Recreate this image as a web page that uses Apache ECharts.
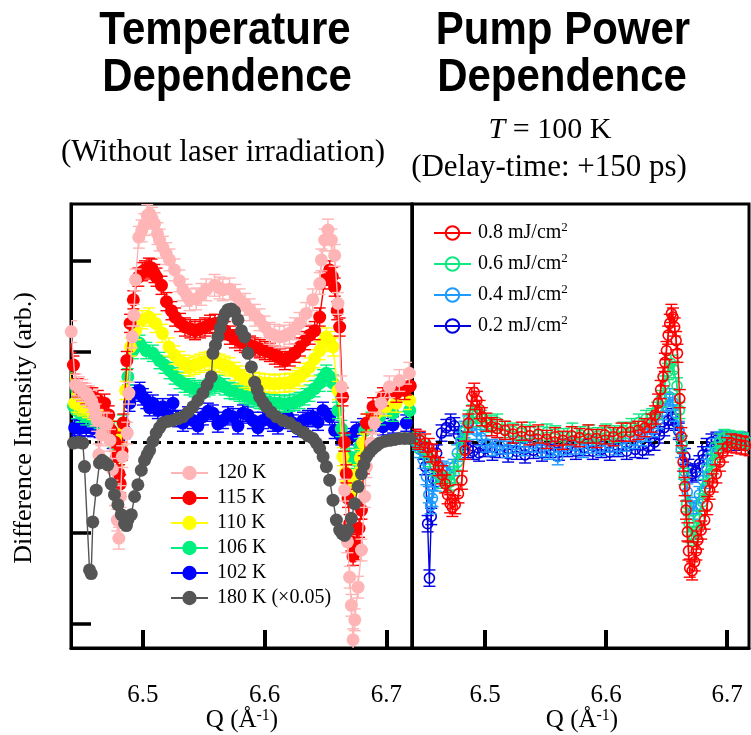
<!DOCTYPE html>
<html><head><meta charset="utf-8">
<script src="https://cdn.jsdelivr.net/npm/echarts@6/dist/echarts.min.js"></script>
<style>html,body{margin:0;padding:0;background:#fff}#c{width:751px;height:735px}</style>
</head><body><div id="c"></div>
<script>
// ---------- DATA (Q in 1/Å, difference intensity in arb. units) ----------
const X_TICKS = [6.5, 6.6, 6.7];
const Y_TICKS = [-2, -1, 0, 1, 2];
const LEFT_NAMES = ['120 K', '115 K', '110 K', '106 K', '102 K', '180 K (×0.05)'];
const RIGHT_NAMES = ['0.8 mJ/cm2', '0.6 mJ/cm2', '0.4 mJ/cm2', '0.2 mJ/cm2'];

const T120 = [[6.4412,1.22],[6.4447,0.63],[6.4475,0.60],[6.4502,0.57],[6.4530,0.53],[6.4557,0.50],[6.4580,0.45],[6.4597,0.39],[6.4612,0.30],[6.4625,0.24],[6.4638,-0.14],[6.4660,0.08],[6.4680,0.21],[6.4705,0.20],[6.4730,0.02],[6.4750,-0.30],[6.4770,-0.58],[6.4790,-0.86],[6.4803,-1.06],[6.4817,-0.60],[6.4831,-0.16],[6.4872,0.10],[6.4885,0.54],[6.4913,1.16],[6.4926,1.40],[6.4940,1.79],[6.4967,2.26],[6.4990,2.33],[6.5012,2.40],[6.5036,2.50],[6.5055,2.52],[6.5075,2.47],[6.5096,2.41],[6.5120,2.30],[6.5137,2.23],[6.5164,2.15],[6.5192,2.08],[6.5219,2.01],[6.5260,1.90],[6.5300,1.78],[6.5329,1.68],[6.5360,1.62],[6.5384,1.57],[6.5438,1.58],[6.5480,1.63],[6.5520,1.68],[6.5589,1.73],[6.5630,1.70],[6.5657,1.68],[6.5712,1.69],[6.5760,1.62],[6.5794,1.57],[6.5840,1.52],[6.5876,1.46],[6.5920,1.40],[6.5958,1.35],[6.6000,1.27],[6.6040,1.20],[6.6080,1.18],[6.6122,1.16],[6.6160,1.17],[6.6204,1.20],[6.6250,1.25],[6.6286,1.31],[6.6341,1.42],[6.6395,1.57],[6.6452,1.75],[6.6466,2.01],[6.6493,2.23],[6.6520,2.34],[6.6548,2.23],[6.6575,2.06],[6.6602,1.53],[6.6630,0.61],[6.6657,-0.53],[6.6680,-1.10],[6.6698,-1.49],[6.6712,-1.80],[6.6726,-2.18],[6.6740,-1.96],[6.6767,-1.60],[6.6795,-1.19],[6.6822,-0.60],[6.6836,-0.27],[6.6874,-0.01],[6.6901,0.21],[6.6956,0.43],[6.7024,0.61],[6.7106,0.68],[6.7188,0.76]];

const T115 = [[6.4404,1.09],[6.4430,0.85],[6.4465,0.60],[6.4500,0.55],[6.4535,0.52],[6.4585,0.50],[6.4630,0.47],[6.4685,0.43],[6.4720,0.30],[6.4740,0.13],[6.4770,0.00],[6.4786,-0.16],[6.4805,-0.35],[6.4814,-0.46],[6.4828,-0.10],[6.4840,0.21],[6.4868,0.90],[6.4895,1.31],[6.4922,1.57],[6.4963,1.82],[6.4995,1.88],[6.5018,1.90],[6.5050,1.93],[6.5072,1.92],[6.5095,1.86],[6.5112,1.82],[6.5153,1.73],[6.5194,1.55],[6.5235,1.45],[6.5265,1.38],[6.5305,1.32],[6.5346,1.27],[6.5390,1.25],[6.5428,1.23],[6.5470,1.25],[6.5510,1.27],[6.5552,1.30],[6.5592,1.31],[6.5634,1.27],[6.5674,1.23],[6.5715,1.18],[6.5756,1.14],[6.5797,1.11],[6.5838,1.09],[6.5880,1.07],[6.5920,1.05],[6.5960,1.03],[6.6002,1.01],[6.6043,0.99],[6.6084,0.96],[6.6125,0.93],[6.6166,0.90],[6.6207,0.94],[6.6248,0.98],[6.6290,1.05],[6.6330,1.12],[6.6370,1.18],[6.6411,1.23],[6.6452,1.38],[6.6493,1.79],[6.6534,1.90],[6.6555,1.83],[6.6575,1.71],[6.6596,1.45],[6.6616,1.27],[6.6640,0.50],[6.6655,0.00],[6.6671,-0.35],[6.6685,-0.62],[6.6698,-0.90],[6.6712,-1.10],[6.6726,-1.26],[6.6740,-1.20],[6.6753,-1.12],[6.6775,-0.95],[6.6795,-0.75],[6.6815,-0.25],[6.6836,0.21],[6.6890,0.39],[6.6972,0.50],[6.7082,0.54],[6.7150,0.57],[6.7196,0.62]];

const T110 = [[6.4398,0.79],[6.4439,0.43],[6.4475,0.41],[6.4507,0.39],[6.4550,0.37],[6.4589,0.35],[6.4630,0.31],[6.4671,0.28],[6.4710,0.22],[6.4740,0.13],[6.4770,0.00],[6.4800,-0.16],[6.4820,-0.05],[6.4830,0.10],[6.4858,0.57],[6.4899,1.05],[6.4940,1.23],[6.4995,1.35],[6.5050,1.38],[6.5105,1.31],[6.5160,1.20],[6.5215,1.05],[6.5260,0.96],[6.5300,0.90],[6.5342,0.86],[6.5383,0.83],[6.5425,0.85],[6.5466,0.87],[6.5507,0.89],[6.5548,0.90],[6.5590,0.88],[6.5630,0.87],[6.5671,0.85],[6.5712,0.83],[6.5753,0.78],[6.5794,0.74],[6.5835,0.70],[6.5876,0.68],[6.5917,0.67],[6.5958,0.66],[6.6000,0.65],[6.6040,0.65],[6.6081,0.64],[6.6122,0.65],[6.6163,0.65],[6.6205,0.66],[6.6246,0.69],[6.6287,0.72],[6.6328,0.77],[6.6369,0.83],[6.6410,0.92],[6.6452,1.01],[6.6480,1.10],[6.6506,1.16],[6.6535,1.12],[6.6561,1.05],[6.6602,0.57],[6.6643,-0.16],[6.6664,-0.33],[6.6684,-0.46],[6.6705,-0.51],[6.6725,-0.53],[6.6746,-0.45],[6.6766,-0.35],[6.6787,-0.18],[6.6807,-0.01],[6.6848,0.21],[6.6917,0.32],[6.6999,0.39],[6.7081,0.43],[6.7190,0.46]];

const T106 = [[6.4398,0.68],[6.4430,0.40],[6.4453,0.35],[6.4495,0.31],[6.4535,0.28],[6.4590,0.26],[6.4644,0.24],[6.4690,0.19],[6.4726,0.13],[6.4760,0.03],[6.4795,-0.05],[6.4835,0.21],[6.4877,0.72],[6.4918,1.01],[6.4973,1.09],[6.5028,1.01],[6.5082,0.98],[6.5137,0.90],[6.5178,0.85],[6.5219,0.79],[6.5260,0.73],[6.5301,0.68],[6.5342,0.64],[6.5383,0.61],[6.5425,0.59],[6.5466,0.57],[6.5507,0.59],[6.5548,0.61],[6.5590,0.63],[6.5630,0.65],[6.5671,0.61],[6.5712,0.57],[6.5753,0.56],[6.5794,0.54],[6.5835,0.52],[6.5876,0.50],[6.5917,0.48],[6.5958,0.46],[6.6000,0.45],[6.6040,0.44],[6.6081,0.43],[6.6122,0.43],[6.6163,0.42],[6.6205,0.43],[6.6246,0.44],[6.6287,0.46],[6.6328,0.50],[6.6369,0.54],[6.6410,0.59],[6.6452,0.65],[6.6480,0.71],[6.6506,0.76],[6.6535,0.72],[6.6561,0.65],[6.6602,0.35],[6.6630,0.15],[6.6657,-0.01],[6.6698,-0.16],[6.6740,-0.20],[6.6781,-0.05],[6.6822,0.13],[6.6877,0.24],[6.6945,0.28],[6.7054,0.32],[6.7191,0.35]];

const T102 = [[6.4398,0.17],[6.4440,0.16],[6.4480,0.15],[6.4535,0.16],[6.4589,0.15],[6.4645,0.14],[6.4699,0.13],[6.4753,0.02],[6.4808,-0.01],[6.4850,0.13],[6.4891,0.43],[6.4932,0.54],[6.4973,0.57],[6.5000,0.50],[6.5028,0.46],[6.5055,0.38],[6.5082,0.43],[6.5123,0.35],[6.5164,0.39],[6.5205,0.30],[6.5247,0.43],[6.5288,0.26],[6.5329,0.21],[6.5370,0.30],[6.5411,0.24],[6.5452,0.18],[6.5493,0.28],[6.5534,0.34],[6.5575,0.32],[6.5616,0.20],[6.5657,0.24],[6.5698,0.30],[6.5740,0.28],[6.5781,0.18],[6.5822,0.32],[6.5863,0.30],[6.5904,0.24],[6.5945,0.16],[6.5986,0.24],[6.6027,0.28],[6.6068,0.21],[6.6109,0.18],[6.6150,0.24],[6.6191,0.28],[6.6232,0.21],[6.6273,0.15],[6.6315,0.24],[6.6356,0.26],[6.6397,0.28],[6.6438,0.22],[6.6479,0.35],[6.6534,0.28],[6.6575,0.13],[6.6630,0.06],[6.6671,0.02],[6.6712,0.06],[6.6753,0.13],[6.6808,0.17],[6.6890,0.21],[6.6972,0.17],[6.7054,0.19],[6.7163,0.21]];

const T180 = [[6.4398,0.00],[6.4430,-0.01],[6.4470,0.00],[6.4507,-0.01],[6.4521,-0.27],[6.4562,-1.41],[6.4576,-1.45],[6.4589,-0.88],[6.4617,-0.53],[6.4644,-0.23],[6.4665,-0.20],[6.4685,-0.22],[6.4712,-0.25],[6.4740,-0.46],[6.4767,-0.58],[6.4795,-0.69],[6.4823,-0.80],[6.4850,-0.90],[6.4865,-0.92],[6.4877,-0.86],[6.4905,-0.80],[6.4932,-0.60],[6.4959,-0.47],[6.4987,-0.31],[6.5014,-0.20],[6.5035,-0.14],[6.5055,-0.09],[6.5083,0.01],[6.5110,0.10],[6.5137,0.16],[6.5164,0.21],[6.5205,0.23],[6.5247,0.24],[6.5288,0.26],[6.5329,0.28],[6.5370,0.33],[6.5411,0.39],[6.5452,0.46],[6.5493,0.54],[6.5528,0.63],[6.5562,0.72],[6.5575,0.98],[6.5596,1.07],[6.5616,1.16],[6.5637,1.26],[6.5657,1.35],[6.5678,1.42],[6.5698,1.46],[6.5726,1.47],[6.5753,1.44],[6.5781,1.35],[6.5809,1.23],[6.5836,1.16],[6.5863,0.98],[6.5891,0.83],[6.5918,0.66],[6.5939,0.58],[6.5959,0.50],[6.5987,0.44],[6.6014,0.39],[6.6055,0.33],[6.6096,0.28],[6.6150,0.24],[6.6205,0.21],[6.6260,0.16],[6.6315,0.11],[6.6356,0.07],[6.6397,0.04],[6.6425,-0.01],[6.6452,-0.07],[6.6480,-0.16],[6.6507,-0.27],[6.6534,-0.42],[6.6561,-0.64],[6.6589,-0.86],[6.6616,-0.97],[6.6637,-1.01],[6.6657,-1.03],[6.6684,-0.97],[6.6712,-0.84],[6.6740,-0.68],[6.6767,-0.49],[6.6795,-0.35],[6.6815,-0.25],[6.6836,-0.16],[6.6863,-0.11],[6.6890,-0.07],[6.6918,-0.04],[6.6945,-0.01],[6.6986,0.01],[6.7027,0.02],[6.7068,0.03],[6.7109,0.04],[6.7150,0.04],[6.7191,0.04]];

const P08 = [[6.4423,0.04],[6.4460,0.02],[6.4505,-0.01],[6.4535,-0.06],[6.4561,-0.12],[6.4590,-0.20],[6.4615,-0.27],[6.4645,-0.36],[6.4670,-0.46],[6.4690,-0.58],[6.4711,-0.68],[6.4730,-0.72],[6.4753,-0.69],[6.4780,-0.57],[6.4808,-0.42],[6.4835,-0.09],[6.4862,0.21],[6.4890,0.50],[6.4910,0.55],[6.4932,0.46],[6.4955,0.36],[6.4973,0.28],[6.5010,0.22],[6.5055,0.17],[6.5100,0.15],[6.5165,0.13],[6.5230,0.09],[6.5303,0.12],[6.5370,0.07],[6.5439,0.09],[6.5510,0.03],[6.5577,0.06],[6.5640,0.02],[6.5715,0.07],[6.5780,0.05],[6.5852,0.09],[6.5920,0.04],[6.5989,0.08],[6.6060,0.06],[6.6127,0.11],[6.6200,0.11],[6.6264,0.13],[6.6320,0.16],[6.6374,0.21],[6.6405,0.30],[6.6429,0.43],[6.6450,0.58],[6.6470,0.72],[6.6485,0.88],[6.6498,1.01],[6.6512,1.18],[6.6525,1.31],[6.6539,1.42],[6.6552,1.38],[6.6566,1.27],[6.6578,1.12],[6.6589,0.98],[6.6608,0.48],[6.6621,0.06],[6.6635,-0.22],[6.6649,-0.49],[6.6660,-0.75],[6.6671,-0.99],[6.6680,-1.20],[6.6690,-1.39],[6.6710,-1.42],[6.6731,-1.32],[6.6745,-1.20],[6.6758,-1.08],[6.6785,-0.97],[6.6814,-0.86],[6.6835,-0.70],[6.6855,-0.53],[6.6880,-0.45],[6.6910,-0.35],[6.6940,-0.22],[6.6965,-0.12],[6.7000,-0.05],[6.7034,-0.01],[6.7075,-0.02],[6.7116,-0.03],[6.7150,-0.04],[6.7185,-0.05]];

const P06 = [[6.4425,0.02],[6.4465,-0.02],[6.4505,-0.08],[6.4545,-0.18],[6.4580,-0.28],[6.4615,-0.36],[6.4650,-0.42],[6.4685,-0.46],[6.4715,-0.44],[6.4745,-0.36],[6.4775,-0.22],[6.4805,-0.05],[6.4835,0.12],[6.4865,0.26],[6.4895,0.32],[6.4930,0.30],[6.4965,0.26],[6.5000,0.22],[6.5050,0.20],[6.5100,0.22],[6.5160,0.14],[6.5230,0.12],[6.5300,0.10],[6.5370,0.13],[6.5440,0.08],[6.5510,0.11],[6.5580,0.09],[6.5650,0.06],[6.5720,0.12],[6.5790,0.08],[6.5860,0.10],[6.5930,0.07],[6.6000,0.11],[6.6070,0.09],[6.6140,0.13],[6.6210,0.17],[6.6270,0.22],[6.6330,0.26],[6.6380,0.28],[6.6420,0.35],[6.6455,0.48],[6.6485,0.64],[6.6510,0.78],[6.6535,0.87],[6.6560,0.80],[6.6585,0.62],[6.6605,0.35],[6.6625,-0.02],[6.6645,-0.38],[6.6665,-0.68],[6.6685,-0.90],[6.6705,-1.02],[6.6725,-1.05],[6.6745,-0.98],[6.6770,-0.85],[6.6795,-0.66],[6.6820,-0.50],[6.6850,-0.35],[6.6880,-0.22],[6.6910,-0.10],[6.6940,0.00],[6.6975,0.05],[6.7010,0.04],[6.7050,0.02],[6.7090,0.03],[6.7130,0.01],[6.7170,0.00]];

const P04 = [[6.4425,0.00],[6.4460,-0.08],[6.4490,-0.20],[6.4515,-0.38],[6.4535,-0.58],[6.4550,-0.70],[6.4565,-0.62],[6.4590,-0.45],[6.4620,-0.36],[6.4650,-0.30],[6.4680,-0.32],[6.4710,-0.36],[6.4740,-0.28],[6.4770,-0.12],[6.4800,0.02],[6.4830,0.14],[6.4860,0.20],[6.4890,0.18],[6.4930,0.12],[6.4970,0.05],[6.5010,-0.02],[6.5060,-0.06],[6.5120,-0.04],[6.5180,-0.08],[6.5250,-0.03],[6.5320,-0.06],[6.5390,-0.02],[6.5460,-0.07],[6.5530,-0.10],[6.5600,-0.16],[6.5670,-0.05],[6.5740,-0.04],[6.5810,-0.08],[6.5880,-0.03],[6.5950,-0.06],[6.6020,-0.02],[6.6090,-0.05],[6.6160,-0.01],[6.6230,0.02],[6.6290,0.05],[6.6340,0.10],[6.6390,0.15],[6.6430,0.24],[6.6465,0.34],[6.6495,0.44],[6.6525,0.50],[6.6550,0.44],[6.6575,0.32],[6.6600,0.14],[6.6620,-0.08],[6.6645,-0.32],[6.6670,-0.55],[6.6695,-0.70],[6.6720,-0.76],[6.6745,-0.70],[6.6770,-0.58],[6.6800,-0.42],[6.6830,-0.28],[6.6865,-0.15],[6.6900,-0.05],[6.6940,0.02],[6.6980,0.04],[6.7020,0.03],[6.7070,0.02],[6.7120,0.01],[6.7170,0.00]];

const P02 = [[6.4425,0.05],[6.4460,0.02],[6.4490,-0.10],[6.4505,-0.27],[6.4525,-0.90],[6.4540,-1.50],[6.4555,-0.82],[6.4570,-0.40],[6.4600,-0.12],[6.4640,0.10],[6.4680,0.16],[6.4715,0.22],[6.4745,0.18],[6.4780,0.08],[6.4820,-0.04],[6.4860,-0.08],[6.4900,-0.10],[6.4950,-0.12],[6.5000,-0.07],[6.5060,-0.11],[6.5120,-0.08],[6.5190,-0.13],[6.5260,-0.10],[6.5330,-0.14],[6.5400,-0.09],[6.5470,-0.12],[6.5540,-0.08],[6.5610,-0.11],[6.5680,-0.07],[6.5750,-0.10],[6.5820,-0.06],[6.5890,-0.10],[6.5960,-0.08],[6.6030,-0.11],[6.6100,-0.07],[6.6170,-0.10],[6.6240,-0.08],[6.6300,-0.09],[6.6350,-0.05],[6.6400,0.00],[6.6440,0.08],[6.6480,0.16],[6.6515,0.24],[6.6545,0.28],[6.6575,0.22],[6.6600,0.12],[6.6625,-0.02],[6.6650,-0.16],[6.6680,-0.28],[6.6710,-0.35],[6.6740,-0.33],[6.6770,-0.24],[6.6800,-0.14],[6.6830,-0.05],[6.6870,0.00],[6.6910,0.02],[6.6960,0.01],[6.7010,0.03],[6.7060,0.00],[6.7110,0.02],[6.7170,0.01]];

// half-length of the error bars, per series
const ERR_T120 = 0.12, ERR_T115 = 0.10, ERR_T110 = 0.10, ERR_T106 = 0.09, ERR_T102 = 0.09;
const ERR_P08 = 0.10, ERR_P06 = 0.09, ERR_P04 = 0.09, ERR_P02 = 0.09;

// ---------- STYLE ----------
const SERIF = '"Liberation Serif", "Times New Roman", serif';
const SANS = '"Liberation Sans", Arial, sans-serif';
const XMIN1 = 6.441, XMAX1 = 6.721, XMIN2 = 6.4396, XMAX2 = 6.718;
const YMIN = -2.271, YMAX = 2.627;

function lineSeries(name, data, color, gi, z, filled) {
  return {
    type: 'line', name: name, data: data, xAxisIndex: gi, yAxisIndex: gi, z: z,
    symbol: 'circle', symbolSize: filled ? 13 : 10, showAllSymbol: true, clip: true,
    itemStyle: filled ? { color: color } : { color: 'rgba(255,255,255,0)', borderColor: color, borderWidth: 1.6 },
    lineStyle: { color: color, width: 1.4 },
    emphasis: { disabled: true }, animation: false
  };
}
function errSeries(name, data, err, color, gi, z, cap) {
  return {
    type: 'custom', name: name + ' err', xAxisIndex: gi, yAxisIndex: gi, z: z, clip: true, silent: true,
    data: data.map(d => [d[0], d[1] - err, d[1] + err]),
    encode: { x: 0, y: [1, 2] },
    itemStyle: { color: color },
    renderItem: function (params, api) {
      const x = api.value(0);
      const a = api.coord([x, api.value(1)]), b = api.coord([x, api.value(2)]);
      const st = { stroke: color, lineWidth: 1.4 };
      return { type: 'group', children: [
        { type: 'line', shape: { x1: a[0], y1: a[1], x2: b[0], y2: b[1] }, style: st },
        { type: 'line', shape: { x1: a[0] - cap, y1: a[1], x2: a[0] + cap, y2: a[1] }, style: st },
        { type: 'line', shape: { x1: b[0] - cap, y1: b[1], x2: b[0] + cap, y2: b[1] }, style: st }
      ] };
    },
    animation: false
  };
}

const C = { t120: '#FFB5B5', t115: '#FF0000', t110: '#FFFF00', t106: '#00F080', t102: '#0000FF', t180: '#555555',
            p08: '#FF0000', p06: '#10E880', p04: '#1E9BFF', p02: '#0000E0' };

const series = [
  errSeries('102 K', T102, ERR_T102, C.t102, 0, 2, 6), lineSeries('102 K', T102, C.t102, 0, 3, true),
  errSeries('106 K', T106, ERR_T106, C.t106, 0, 4, 6), lineSeries('106 K', T106, C.t106, 0, 5, true),
  errSeries('110 K', T110, ERR_T110, C.t110, 0, 6, 6), lineSeries('110 K', T110, C.t110, 0, 7, true),
  errSeries('115 K', T115, ERR_T115, C.t115, 0, 8, 6), lineSeries('115 K', T115, C.t115, 0, 9, true),
  errSeries('120 K', T120, ERR_T120, C.t120, 0, 10, 6), lineSeries('120 K', T120, C.t120, 0, 11, true),
  { type: 'line', name: 'zero1', data: [], xAxisIndex: 0, yAxisIndex: 0, z: 12, silent: true,
    markLine: { silent: true, symbol: 'none', label: { show: false }, animation: false,
      lineStyle: { color: '#000', width: 3, type: [6, 6] }, data: [{ yAxis: 0 }] } },
  lineSeries('180 K (×0.05)', T180, C.t180, 0, 13, true),
  { type: 'line', name: 'zero2', data: [], xAxisIndex: 1, yAxisIndex: 1, z: 2, silent: true,
    markLine: { silent: true, symbol: 'none', label: { show: false }, animation: false,
      lineStyle: { color: '#000', width: 3, type: [6, 6] }, data: [{ yAxis: 0 }] } },
  errSeries('0.2', P02, ERR_P02, C.p02, 1, 3, 6), lineSeries(RIGHT_NAMES[3], P02, C.p02, 1, 4, false),
  errSeries('0.4', P04, ERR_P04, C.p04, 1, 5, 6), lineSeries(RIGHT_NAMES[2], P04, C.p04, 1, 6, false),
  errSeries('0.6', P06, ERR_P06, C.p06, 1, 7, 6), lineSeries(RIGHT_NAMES[1], P06, C.p06, 1, 8, false),
  errSeries('0.8', P08, ERR_P08, C.p08, 1, 9, 6), lineSeries(RIGHT_NAMES[0], P08, C.p08, 1, 10, false)
];

function xAxis(gi, min, max) {
  return {
    type: 'value', gridIndex: gi, min: min, max: max, position: 'bottom',
    axisLine: { show: true, onZero: false, lineStyle: { color: '#000', width: 3 } },
    axisTick: { show: true, inside: true, length: 18, customValues: X_TICKS, lineStyle: { color: '#000', width: 4 } },
    axisLabel: { show: true, customValues: X_TICKS, margin: 35, color: '#000', fontSize: 25, fontFamily: SERIF,
      formatter: v => v.toFixed(1) },
    splitLine: { show: false }
  };
}
function yAxis(gi, ticks) {
  return {
    type: 'value', gridIndex: gi, min: YMIN, max: YMAX, position: 'left',
    axisLine: { show: true, onZero: false, lineStyle: { color: '#000', width: 3 } },
    axisTick: { show: ticks, inside: true, length: 20, customValues: Y_TICKS, lineStyle: { color: '#000', width: 3.5 } },
    axisLabel: { show: false }, splitLine: { show: false }
  };
}

const option = {
  backgroundColor: '#fff',
  animation: false,
  grid: [
    { left: 71, top: 204, width: 341, height: 444, show: true, borderColor: '#000', borderWidth: 3, backgroundColor: 'transparent' },
    { left: 412, top: 204, width: 337, height: 444, show: true, borderColor: '#000', borderWidth: 3, backgroundColor: 'transparent' }
  ],
  xAxis: [xAxis(0, XMIN1, XMAX1), xAxis(1, XMIN2, XMAX2)],
  yAxis: [yAxis(0, true), yAxis(1, false)],
  legend: [
    { data: LEFT_NAMES, orient: 'vertical', left: 170, top: 462, padding: 0, itemWidth: 37, itemHeight: 18, itemGap: 3,
      selectedMode: false, textStyle: { fontFamily: SERIF, fontSize: 20, color: '#000', lineHeight: 22, padding: [0, 0, 0, 4] } },
    { data: RIGHT_NAMES, orient: 'vertical', left: 433, top: 221, padding: 0, itemWidth: 37, itemHeight: 17, itemGap: 7,
      selectedMode: false,
      formatter: n => n.replace('cm2', 'cm{sup|2}'),
      textStyle: { fontFamily: SERIF, fontSize: 20, color: '#000', lineHeight: 24, padding: [0, 0, 0, 2],
        rich: { sup: { fontFamily: SERIF, fontSize: 13, color: '#000', lineHeight: 13, verticalAlign: 'top' } } } }
  ],
  graphic: [
    { type: 'text', x: 225, y: 31, scaleY: 1.12, style: { text: 'Temperature', fontFamily: SANS, fontWeight: 'bold', fontSize: 42, fill: '#000', textAlign: 'center', textVerticalAlign: 'middle' } },
    { type: 'text', x: 227, y: 78, scaleY: 1.12, style: { text: 'Dependence', fontFamily: SANS, fontWeight: 'bold', fontSize: 42, fill: '#000', textAlign: 'center', textVerticalAlign: 'middle' } },
    { type: 'text', x: 563, y: 31, scaleY: 1.12, style: { text: 'Pump Power', fontFamily: SANS, fontWeight: 'bold', fontSize: 42, fill: '#000', textAlign: 'center', textVerticalAlign: 'middle' } },
    { type: 'text', x: 562, y: 78, scaleY: 1.12, style: { text: 'Dependence', fontFamily: SANS, fontWeight: 'bold', fontSize: 42, fill: '#000', textAlign: 'center', textVerticalAlign: 'middle' } },
    { type: 'text', x: 223, y: 153, style: { text: '(Without laser irradiation)', fontFamily: SERIF, fontSize: 31, fill: '#000', textAlign: 'center', textVerticalAlign: 'middle' } },
    { type: 'text', x: 550, y: 130, style: { text: '{i|T} = 100 K', fontFamily: SERIF, fontSize: 30, fill: '#000', textAlign: 'center', textVerticalAlign: 'middle',
        rich: { i: { fontFamily: SERIF, fontSize: 30, fontStyle: 'italic', fill: '#000' } } } },
    { type: 'text', x: 549, y: 168, style: { text: '(Delay-time: +150 ps)', fontFamily: SERIF, fontSize: 31, fill: '#000', textAlign: 'center', textVerticalAlign: 'middle' } },
    { type: 'text', x: 242, y: 720, style: { text: 'Q (Å{sup|-1})', fontFamily: SERIF, fontSize: 25, fill: '#000', textAlign: 'center', textVerticalAlign: 'middle',
        rich: { sup: { fontFamily: SERIF, fontSize: 16, fill: '#000', verticalAlign: 'top', lineHeight: 14 } } } },
    { type: 'text', x: 582, y: 720, style: { text: 'Q (Å{sup|-1})', fontFamily: SERIF, fontSize: 25, fill: '#000', textAlign: 'center', textVerticalAlign: 'middle',
        rich: { sup: { fontFamily: SERIF, fontSize: 16, fill: '#000', verticalAlign: 'top', lineHeight: 14 } } } },
    { type: 'text', x: 24, y: 428, rotation: Math.PI / 2, style: { text: 'Difference Intensity (arb.)', fontFamily: SERIF, fontSize: 26, fill: '#000', textAlign: 'center', textVerticalAlign: 'middle' } }
  ],
  series: series
};

const chart = echarts.init(document.getElementById('c'), null, { renderer: 'canvas' });
chart.setOption(option);
</script></body></html>
